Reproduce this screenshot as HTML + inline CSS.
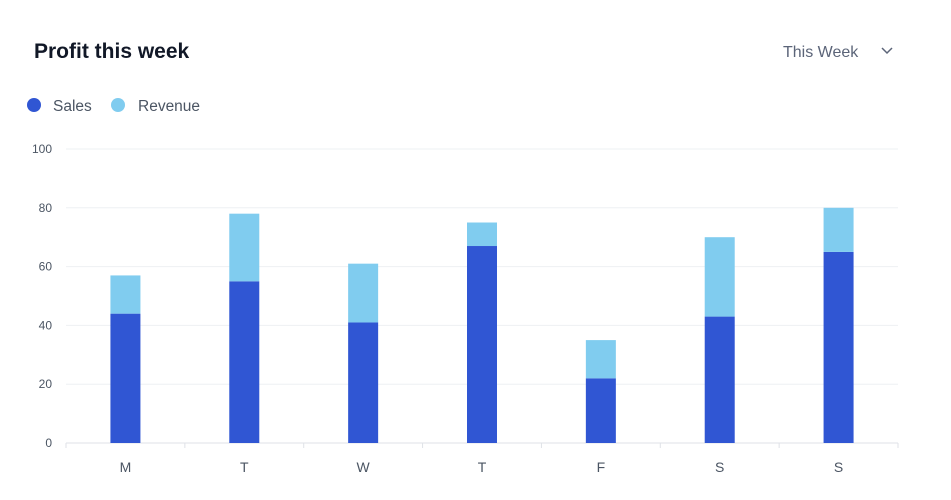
<!DOCTYPE html>
<html><head><meta charset="utf-8"><style>
body{margin:0;background:#fff;font-family:"Liberation Sans",sans-serif;}
svg{display:block}
</style></head><body>
<svg width="951" height="500">
<text x="34" y="58" font-size="21" font-weight="bold" fill="#111827">Profit this week</text>
<g>
<text x="783" y="57" font-size="16" fill="#5b6478">This Week</text>
<path d="M882 48 l5 5 l5 -5" stroke="#5b6478" stroke-width="1.5" fill="none"/>
</g>
<g><circle cx="34" cy="105" r="7" fill="#3056d3"/><text x="53" y="111" font-size="15.5" fill="#4b5563">Sales</text></g>
<g><circle cx="118" cy="105" r="7" fill="#80ccef"/><text x="138" y="111" font-size="15.5" fill="#4b5563">Revenue</text></g>
<g id="grid"></g><g id="bars"></g><g id="xax"></g>
</svg>
<script>
const categories=["M","T","W","T","F","S","S"];
const sales=[44,55,41,67,22,43,65];
const revenue=[13,23,20,8,13,27,15];
const yTicks=[0,20,40,60,80,100];
const ns="http://www.w3.org/2000/svg";
const x0=66,x1=898,y0=443,yTop=149;
const band=(x1-x0)/categories.length;
const y=v=>y0-(y0-yTop)*v/100;
function mk(t,a,p){const e=document.createElementNS(ns,t);for(const k in a)e.setAttribute(k,a[k]);p.appendChild(e);return e;}
const g=document.getElementById('grid'),b=document.getElementById('bars'),xa=document.getElementById('xax');
yTicks.forEach(v=>{
 const l=mk('line',{x1:x0,x2:x1,y1:y(v),y2:y(v),stroke:v?'#eef0f3':'#dfe2e7','stroke-width':1},g);
 
 
 const t=mk('text',{x:52,y:y(v)+4,'font-size':12,fill:'#4b5563','text-anchor':'end'},g);
 t.textContent=v;
 
 
});
for(let i=0;i<=categories.length;i++){
 const tk=mk('line',{x1:x0+i*band,x2:x0+i*band,y1:y0,y2:y0+5,stroke:'#dfe2e7'},xa);
 
 
}
categories.forEach((c,i)=>{
 const cx=x0+band*(i+0.5),w=30;
 const s=mk('rect',{x:cx-w/2,y:y(sales[i]),width:w,height:y0-y(sales[i]),fill:'#3056d3'},b);
 
 
 const r=mk('rect',{x:cx-w/2,y:y(sales[i]+revenue[i]),width:w,height:y(sales[i])-y(sales[i]+revenue[i]),fill:'#80ccef'},b);
 
 
 const t=mk('text',{x:cx,y:472,'font-size':14,fill:'#4b5563','text-anchor':'middle'},xa);
 t.textContent=c;
 
 
});
</script>
</body></html>
